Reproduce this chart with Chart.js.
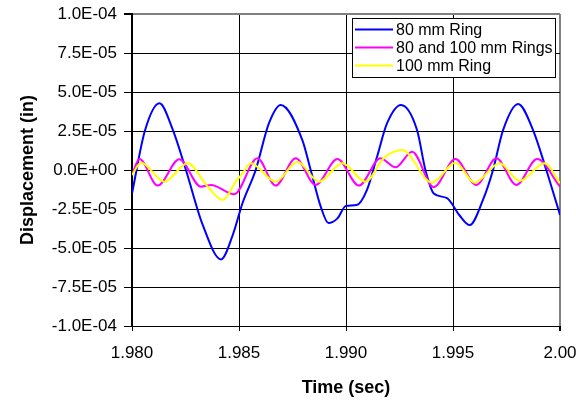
<!DOCTYPE html>
<html>
<head>
<meta charset="utf-8">
<script src="https://cdn.jsdelivr.net/npm/chart.js@4"></script>
<style>
  body { margin: 0; background: #fff; }
</style>
</head>
<body>
<canvas id="chart" width="576" height="405"></canvas>
<script>
// values
let xTickValues = [1.980, 1.985, 1.990, 1.995, 2.000];
let xTickLabels = ['1.980', '1.985', '1.990', '1.995', '2.00'];
let yTickValues = [-1.0e-4, -7.5e-5, -5.0e-5, -2.5e-5, 0, 2.5e-5, 5.0e-5, 7.5e-5, 1.0e-4];
let yTickLabels = ['-1.0E-04', '-7.5E-05', '-5.0E-05', '-2.5E-05', '0.0E+00', '2.5E-05', '5.0E-05', '7.5E-05', '1.0E-04'];

let seriesNames = ['80 mm Ring', '80 and 100 mm Rings', '100 mm Ring'];
let seriesColors = ['#0000FF', '#FF00FF', '#FFFF00'];

let ring80Time = [1.98000, 1.98060, 1.98128, 1.98190, 1.98252, 1.98330, 1.98416, 1.98470, 1.98517,
  1.98578, 1.98640, 1.98695, 1.98796, 1.98835, 1.98882, 1.98918, 1.98960, 1.99000, 1.99050,
  1.99098, 1.99145, 1.99192, 1.99257, 1.99332, 1.99371, 1.99410, 1.99472, 1.99530, 1.99578,
  1.99640, 1.99687, 1.99734, 1.99804, 1.99874, 1.99936, 2.00000];
let ring80Disp = [-1.5e-5, 2.5e-5, 4.28e-5, 2.6e-5, 0, -3.5e-5, -5.73e-5, -4.2e-5, -2.1e-5,
  0, 3.0e-5, 4.17e-5, 1.92e-5, 0, -2.35e-5, -3.4e-5, -3.1e-5, -2.3e-5, -2.25e-5,
  -1.28e-5, 0.85e-5, 3.0e-5, 4.17e-5, 2.56e-5, 0, -1.5e-5, -1.8e-5, -2.9e-5, -3.53e-5,
  -1.92e-5, 0, 2.56e-5, 4.23e-5, 2.56e-5, 0, -2.88e-5];

let bothTime = [1.98000, 1.98035, 1.98120, 1.98221, 1.98322, 1.98369, 1.98478, 1.98586, 1.98671,
  1.98765, 1.98858, 1.98960, 1.99060, 1.99161, 1.99231, 1.99309, 1.99410, 1.99511, 1.99609,
  1.99703, 1.99796, 1.99893, 2.00000];
let bothDisp = [-0.3e-5, 0.7e-5, -1.0e-5, 0.69e-5, -1.07e-5, -0.96e-5, -1.55e-5, 0.75e-5, -1.0e-5,
  0.75e-5, -0.96e-5, 0.7e-5, -1.0e-5, 0.75e-5, 0.17e-5, 1.17e-5, -1.1e-5, 0.7e-5, -0.96e-5,
  0.75e-5, -0.96e-5, 0.7e-5, -1.07e-5];

let ring100Time = [1.98000, 1.98042, 1.98151, 1.98260, 1.98354, 1.98424, 1.98485, 1.98517, 1.98555,
  1.98671, 1.98773, 1.98874, 1.98983, 1.99091, 1.99176, 1.99262, 1.99402, 1.99511, 1.99601,
  1.99718, 1.99812, 1.99928, 2.00000];
let ring100Disp = [-0.32e-5, 0.47e-5, -0.75e-5, 0.43e-5, -1.07e-5, -1.92e-5, -0.75e-5, -0.21e-5, 0.43e-5,
  -0.75e-5, 0.53e-5, -0.75e-5, 0.43e-5, -0.75e-5, 0.75e-5, 1.28e-5, -0.81e-5, 0.47e-5, -0.81e-5,
  0.43e-5, -0.69e-5, 0.43e-5, -0.85e-5];

function toPoints(xs, ys) {
  return xs.map((x, i) => ({ x: x, y: ys[i] }));
}

function makeDataset(i, xs, ys) {
  return {
    label: seriesNames[i],
    data: toPoints(xs, ys),
    borderColor: seriesColors[i],
    backgroundColor: seriesColors[i],
    borderWidth: 2,
    pointRadius: 0,
    fill: false,
    cubicInterpolationMode: 'monotone',
    order: 2 - i,
  };
}

// legend box sitting inside the plot, like the original
const boxLegend = {
  id: 'boxLegend',
  afterDraw(chart) {
    const ctx = chart.ctx;
    const x0 = 352, y0 = 18, w = 203, h = 59;
    ctx.save();
    ctx.fillStyle = '#fff';
    ctx.fillRect(x0, y0, w, h);
    ctx.strokeStyle = '#000';
    ctx.lineWidth = 1;
    ctx.strokeRect(x0 + 0.5, y0 + 0.5, w, h);
    ctx.font = '16px "Liberation Sans", Arial, sans-serif';
    ctx.textBaseline = 'middle';
    ctx.fillStyle = '#000';
    chart.data.datasets.forEach((ds, i) => {
      let y = y0 + 11.5 + i * 18;
      ctx.strokeStyle = ds.borderColor;
      ctx.lineWidth = 2;
      ctx.beginPath();
      ctx.moveTo(x0 + 3, y);
      ctx.lineTo(x0 + 41, y);
      ctx.stroke();
      ctx.fillText(ds.label, x0 + 44, y + 1);
    });
    ctx.restore();
  },
};

let ctx = document.getElementById('chart').getContext('2d');
new Chart(ctx, {
  type: 'line',
  data: {
    datasets: [
      makeDataset(0, ring80Time, ring80Disp),
      makeDataset(1, bothTime, bothDisp),
      makeDataset(2, ring100Time, ring100Disp),
    ],
  },
  options: {
    responsive: false,
    animation: false,
    layout: { padding: { top: 14, right: 16, left: 0, bottom: 0 } },
    plugins: {
      legend: { display: false },
      tooltip: { enabled: false },
    },
    scales: {
      x: {
        type: 'linear',
        min: 1.98,
        max: 2.0,
        afterBuildTicks: (scale) => {
          scale.ticks = xTickValues.map((v) => ({ value: v }));
        },
        afterFit: (scale) => {
          scale.height = 79;
          scale.paddingLeft = 0;
          scale.paddingRight = 0;
        },
        ticks: {
          color: '#000',
          padding: 12,
          maxRotation: 0,
          autoSkip: false,
          font: { family: '"Liberation Sans", Arial, sans-serif', size: 17 },
          callback: (value, index) => xTickLabels[index],
        },
        grid: {
          color: (c) => (c.index === xTickValues.length - 1 ? '#808080' : '#000'),
          lineWidth: (c) => (c.index === xTickValues.length - 1 ? 2 : 1),
          tickColor: '#000',
          tickLength: 5,
        },
        border: { color: '#000', width: 1 },
        title: {
          display: true,
          text: 'Time (sec)',
          color: '#000',
          font: { family: '"Liberation Sans", Arial, sans-serif', size: 18, weight: 'bold' },
          padding: { top: 6, bottom: 6 },
        },
      },
      y: {
        type: 'linear',
        min: -1.0e-4,
        max: 1.0e-4,
        afterBuildTicks: (scale) => {
          scale.ticks = yTickValues.map((v) => ({ value: v }));
        },
        afterFit: (scale) => {
          scale.width = 132;
          scale.paddingTop = 0;
          scale.paddingBottom = 0;
        },
        ticks: {
          color: '#000',
          padding: 7,
          autoSkip: false,
          font: { family: '"Liberation Sans", Arial, sans-serif', size: 17 },
          callback: (value, index) => yTickLabels[index],
        },
        grid: {
          color: (c) => (c.index === yTickValues.length - 1 ? '#808080' : '#000'),
          lineWidth: (c) => (c.index === yTickValues.length - 1 ? 2 : 1),
          tickColor: '#000',
          tickLength: 8,
        },
        border: { color: '#000', width: 2 },
        title: {
          display: true,
          text: 'Displacement (in)',
          color: '#000',
          font: { family: '"Liberation Sans", Arial, sans-serif', size: 18, weight: 'bold' },
          padding: { top: 17, bottom: 17 },
        },
      },
    },
  },
  plugins: [boxLegend],
});
</script>
</body>
</html>
